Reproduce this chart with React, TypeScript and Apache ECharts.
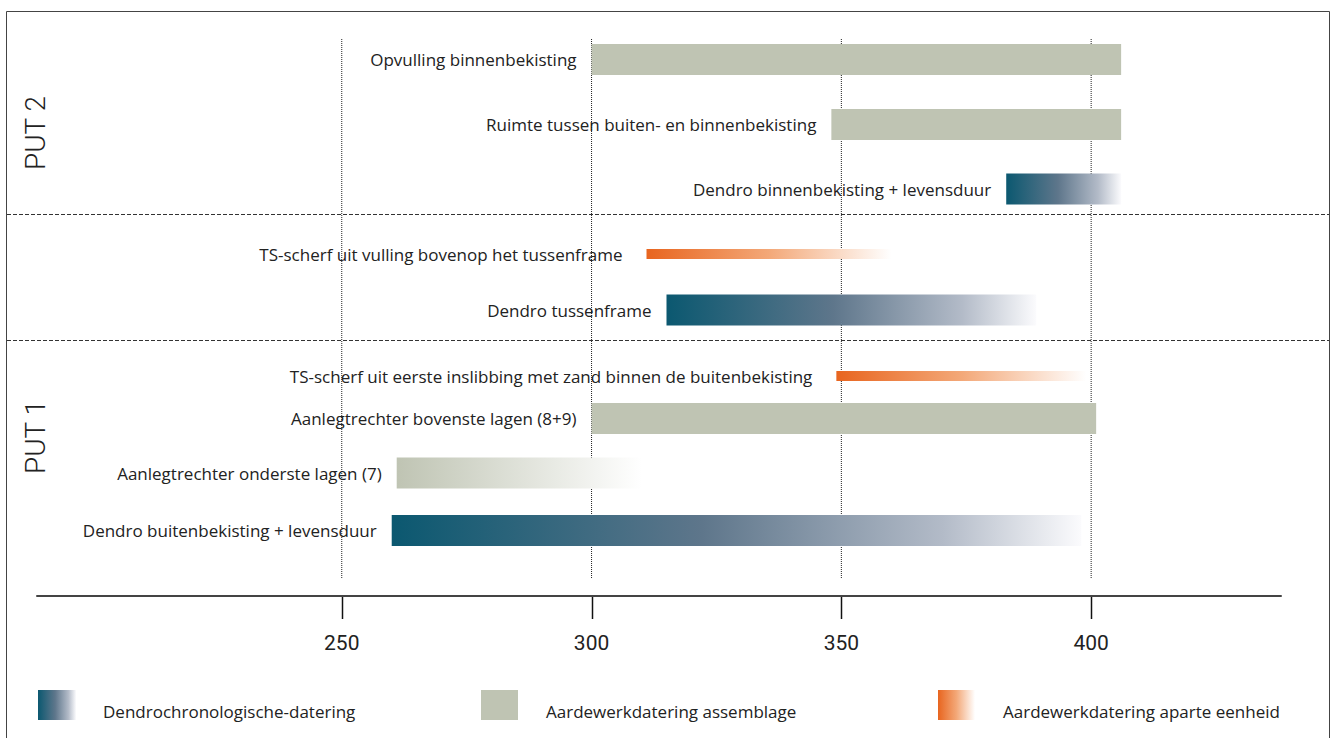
import React, { useEffect, useRef } from "react";
import * as echarts from "echarts";

const labels = [
  "Opvulling binnenbekisting",
  "Ruimte tussen buiten- en binnenbekisting",
  "Dendro binnenbekisting + levensduur",
  "TS-scherf uit vulling bovenop het tussenframe",
  "Dendro tussenframe",
  "TS-scherf uit eerste inslibbing met zand binnen de buitenbekisting",
  "Aanlegtrechter bovenste lagen (8+9)",
  "Aanlegtrechter onderste lagen (7)",
  "Dendro buitenbekisting + levensduur",
];
const startYears = [300, 348, 383, 311, 315, 349, 300, 261, 260];
const endYears = [406, 406, 406, 360, 389, 399, 401, 310, 398];
const rowPos = [59.5, 124.5, 189, 254, 310, 376, 418.5, 473, 530.5];
const kinds = ["assem", "assem", "dendro", "ts", "dendro", "ts", "assem", "assemFade", "dendro"];

const tickValues = [250, 300, 350, 400];
const legendLabels = [
  "Dendrochronologische-datering",
  "Aardewerkdatering assemblage",
  "Aardewerkdatering aparte eenheid",
];

const FONT = "'Open Sans', 'Noto Sans', sans-serif";
const TICKFONT = "Roboto, sans-serif";
const TEXT = "#222";
const GRID_BOTTOM = 142;
const H = 738;

const dendroGrad = () => ({
  type: "linear", x: 0, y: 0, x2: 1, y2: 0,
  colorStops: [
    { offset: 0, color: "#0b5870" },
    { offset: 0.45, color: "#5e768b" },
    { offset: 0.8, color: "#b3bbc8" },
    { offset: 1, color: "#fbfbfd" },
  ],
});
const tsGrad = () => ({
  type: "linear", x: 0, y: 0, x2: 1, y2: 0,
  colorStops: [
    { offset: 0, color: "#e8651f" },
    { offset: 0.5, color: "#f3a878" },
    { offset: 1, color: "#ffffff" },
  ],
});
const grayFade = () => ({
  type: "linear", x: 0, y: 0, x2: 1, y2: 0,
  colorStops: [
    { offset: 0, color: "#bfc4b3" },
    { offset: 1, color: "#ffffff" },
  ],
});
const fillFor = (k: string) =>
  k === "dendro" ? dendroGrad() : k === "ts" ? tsGrad() : k === "assemFade" ? grayFade() : "#bfc4b3";

export default function App() {
  const ref = useRef<HTMLDivElement>(null);
  useEffect(() => {
    if (!ref.current) return;
    const chart = echarts.init(ref.current, null, { renderer: "svg" });
    const barData = labels.map((_, i) => [startYears[i], endYears[i], rowPos[i]]);
    const staticGraphic: any[] = [
      {
        type: "rect",
        shape: { x: 6.5, y: 11.5, width: 1323, height: 740 },
        style: { fill: "none", stroke: "#444", lineWidth: 1 },
        silent: true,
      },
      {
        type: "line",
        shape: { x1: 7, y1: 214.5, x2: 1329, y2: 214.5 },
        style: { stroke: "#333", lineWidth: 1, lineDash: [4, 2] },
      },
      {
        type: "line",
        shape: { x1: 7, y1: 340.5, x2: 1329, y2: 340.5 },
        style: { stroke: "#333", lineWidth: 1, lineDash: [4, 2] },
      },
      {
        type: "text",
        x: 35,
        y: 133,
        rotation: Math.PI / 2,
        style: { text: "PUT 2", align: "center", verticalAlign: "middle", fontSize: 28, fontWeight: 300, fontFamily: "Roboto, sans-serif", fill: TEXT },
      },
      {
        type: "text",
        x: 35,
        y: 437,
        rotation: Math.PI / 2,
        style: { text: "PUT 1", align: "center", verticalAlign: "middle", fontSize: 28, fontWeight: 300, fontFamily: "Roboto, sans-serif", fill: TEXT },
      },
      { type: "rect", shape: { x: 38, y: 690, width: 38, height: 30 }, style: { fill: dendroGrad() } },
      { type: "rect", shape: { x: 481, y: 690, width: 37, height: 30 }, style: { fill: "#bfc4b3" } },
      { type: "rect", shape: { x: 938, y: 690, width: 37, height: 30 }, style: { fill: tsGrad() } },
      { type: "text", x: 103, y: 711, style: { text: legendLabels[0], verticalAlign: "middle", fontSize: 17, fontFamily: FONT, fill: TEXT } },
      { type: "text", x: 546, y: 711, style: { text: legendLabels[1], verticalAlign: "middle", fontSize: 17, fontFamily: FONT, fill: TEXT } },
      { type: "text", x: 1003, y: 711, style: { text: legendLabels[2], verticalAlign: "middle", fontSize: 17, fontFamily: FONT, fill: TEXT } },
    ];
    const option: any = {
      animation: false,
      backgroundColor: "#fff",
      grid: { left: 37, right: 54, top: 0, bottom: GRID_BOTTOM },
      xAxis: {
        type: "value",
        position: "bottom",
        min: 189,
        max: 438,
        axisLine: { show: true, onZero: false, lineStyle: { color: "#444", width: 2 } },
        axisTick: { show: false },
        axisLabel: {
          customValues: tickValues,
          margin: 36,
          fontSize: 21,
          fontFamily: TICKFONT,
          color: TEXT,
        },
        splitLine: { show: false },
      },
      yAxis: { type: "value", inverse: true, min: 0, max: 596, show: false },
      series: [
        {
          type: "custom",
          data: tickValues.map((v) => [v]),
          silent: true,
          z: 1,
          renderItem: (params: any, api: any) => {
            const v = api.value(0);
            const a = api.coord([v, 39]);
            const b = api.coord([v, 579]);
            return {
              type: "line",
              shape: { x1: a[0], y1: a[1], x2: b[0], y2: b[1] },
              style: { stroke: "#222", lineWidth: 1, lineDash: [1, 1] },
            };
          },
        },
        {
          type: "custom",
          data: barData,
          z: 2,
          renderItem: (params: any, api: any) => {
            const i = params.dataIndex;
            const s = api.value(0);
            const e = api.value(1);
            const p = api.value(2);
            const p0 = api.coord([s, p]);
            const p1 = api.coord([e, p]);
            const k = kinds[i];
            const h = k === "ts" ? 10 : 31;
            const gap = k === "ts" ? 24 : 15;
            return {
              type: "group",
              children: [
                {
                  type: "rect",
                  shape: { x: p0[0], y: p0[1] - h / 2, width: p1[0] - p0[0], height: h },
                  style: { fill: fillFor(k) },
                },
                {
                  type: "text",
                  style: {
                    text: labels[i],
                    x: p0[0] - gap,
                    y: p0[1],
                    align: "right",
                    verticalAlign: "middle",
                    fontSize: 17,
                    fontFamily: FONT,
                    fill: TEXT,
                  },
                },
              ],
            };
          },
        },
      ],
      graphic: staticGraphic,
    };
    chart.setOption(option);
    // tick marks below the axis line, placed through the x scale
    const axisY = H - GRID_BOTTOM;
    const ticks = tickValues.map((v) => {
      const px = Number(chart.convertToPixel({ xAxisIndex: 0 }, v));
      const x = Math.round(px) + 0.5;
      return {
        type: "line",
        z: 100,
        shape: { x1: x, y1: axisY + 1, x2: x, y2: axisY + 23 },
        style: { stroke: "#111", lineWidth: 1.5 },
      };
    });
    chart.setOption({ graphic: [...staticGraphic, ...ticks] });
    return () => chart.dispose();
  }, []);
  return (
    <div
      ref={ref}
      style={{ position: "absolute", left: 0, top: 0, width: 1335, height: 738 }}
    />
  );
}
